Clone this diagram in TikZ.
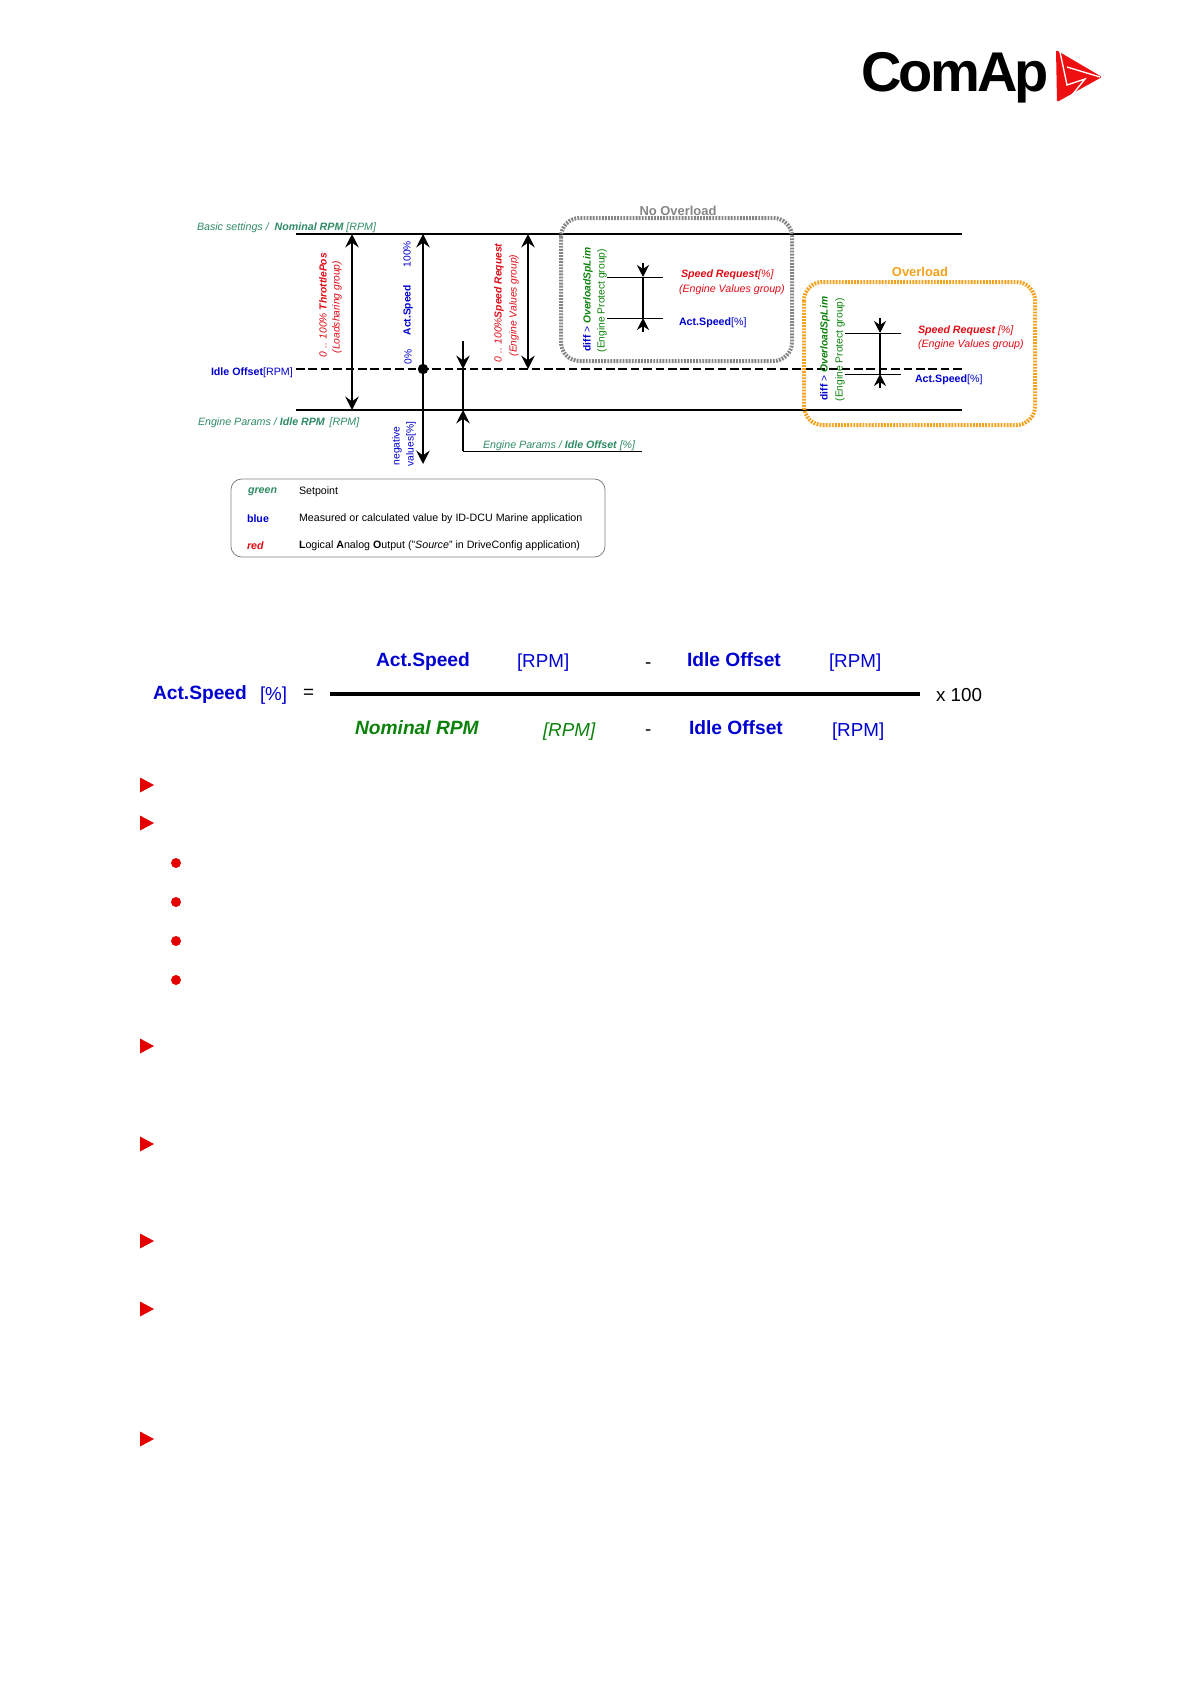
\documentclass[tikz,border=0pt]{standalone}
\usepackage{fontspec}
\setmainfont{Liberation Sans}
\newfontfamily\logofont[LetterSpace=-5]{Liberation Sans}
\usetikzlibrary{arrows.meta}
\definecolor{setgreen}{HTML}{2E8B62}
\definecolor{valblue}{HTML}{0000D0}
\definecolor{valred}{HTML}{E00A14}
\definecolor{pargreen}{HTML}{0A820A}
\definecolor{boxgrey}{HTML}{858585}
\definecolor{boxorange}{HTML}{F2A21E}
\definecolor{legendline}{HTML}{808080}
\definecolor{logored}{HTML}{EE1010}
\tikzset{
  lab/.style={inner sep=0pt,outer sep=0pt,font=\fontsize{8}{9}\selectfont},
  west/.style={lab,anchor=west,yshift=-1pt},
  up/.style={lab,anchor=west,rotate=90,xshift=.5pt,font=\fontsize{7.7}{9}\selectfont},
  heading/.style={lab,anchor=center,font=\fontsize{9.7}{11}\bfseries\selectfont},
  formula/.style={inner sep=0pt,outer sep=0pt,anchor=west,font=\fontsize{14.1}{16}\selectfont},
  formulab/.style={formula,font=\fontsize{14.4}{16}\bfseries\selectfont},
  level/.style={line width=1.3pt,black},
  dashlevel/.style={line width=1.3pt,black,dash pattern=on 6.4pt off 2.9pt},
  big/.style={line width=1.7pt,black,-{Stealth[length=10pt,width=10pt,inset=3.5pt]}},
  bigboth/.style={line width=1.7pt,black,{Stealth[length=10pt,width=10pt,inset=3.5pt]}-{Stealth[length=10pt,width=10pt,inset=3.5pt]}},
  tick/.style={line width=.7pt,black},
  stem/.style={line width=.9pt,black},
  small/.style={line width=1.7pt,black,-{Stealth[length=9pt,width=9pt,inset=3pt]}},
  dotbox/.style={line width=3pt,dash pattern=on 1.4pt off .9pt,rounded corners=14pt},
  bullet/.style={fill=red!90!black,draw=none},
}
\begin{document}
\begin{tikzpicture}[x=0.75pt,y=-0.75pt]
\useasboundingbox (0,0) rectangle (1191,1684);

% logo
\node[inner sep=0pt,anchor=base west,font=\fontsize{42}{44}\bfseries\logofont] (logo) at (861,92) {ComAp};
\fill[logored,rounded corners=1pt] (1056,50) -- (1102,77) -- (1057,102) -- cycle;
\draw[white,line width=1pt] (1060,52) -- (1067,85) -- (1085,79) -- (1068,100);
\draw[white,line width=1pt] (1067,67) -- (1100,77);

% level lines
\coordinate (topL) at (296,234); \coordinate (topR) at (962,234);
\coordinate (midL) at (296,369); \coordinate (midR) at (962,369);
\coordinate (lowL) at (296,410); \coordinate (lowR) at (962,410);
\draw[level] (topL) -- (topR);
\draw[dashlevel] (midL) -- (midR);
\draw[level] (lowL) -- (lowR);

% vertical arrows
\coordinate (a1t) at (352,234); \coordinate (a1b) at (352,410);
\draw[bigboth] (a1b) -- (a1t);
\coordinate (a2t) at (423,234); \coordinate (a2m) at (423,369); \coordinate (a2b) at (423,464);
\draw[big] (a2m) -- (a2t);
\draw[big] (a2m) -- (a2b);
\fill[black] (a2m) circle (5.2);
\coordinate (a3t) at (528,234); \coordinate (a3b) at (528,369);
\draw[bigboth] (a3b) -- (a3t);
\coordinate (i0) at (463,341); \coordinate (i1) at (463,369);
\coordinate (i2) at (463,410); \coordinate (i3) at (463,451); \coordinate (i4) at (642,451);
\draw[big] (i0) -- (i1);
\draw[stem] (i1) -- (i2);
\draw[big] (i3) -- (i2);
\draw[tick] (i3) -- (i4);

% left labels
\node[west,text=setgreen] (tNom) at (197,226) {\itshape Basic settings / \textbf{ Nominal RPM} [RPM]};
\node[west,text=valblue] (tIdle) at (211,371) {\textbf{Idle Offset}[RPM]};
\node[west,text=setgreen] (tIdleRpm) at (198,421) {\itshape Engine Params / \textbf{Idle RPM}\, [RPM]};
\node[west,text=setgreen] (tIdleOff) at (483,444) {\itshape Engine Params / \textbf{Idle Offset} [\%]};

% rotated labels
\node[up,text=valred] (r1) at (323,358) {\itshape 0 .. 100\% \textbf{ThrottlePos}};
\node[up,text=valred] (r2) at (337,354) {\itshape (Loadsharing group)};
\node[up,text=valblue] (r3) at (407,268) {100\%};
\node[up,text=valblue] (r4) at (408,336) {\textbf{Act.Speed}};
\node[up,text=valblue] (r5) at (408,365) {0\%};
\node[up,text=valred] (r6) at (499,363) {\itshape 0 .. 100\%\textbf{Speed Request}};
\node[up,text=valred] (r7) at (514,357) {\itshape (Engine Values group)};
\node[up,text=valblue] (r8) at (397,466) {negative};
\node[up,text=valblue] (r9) at (411,467) {values[\%]};

% no overload box
\draw[dotbox,boxgrey] (561,218) rectangle (792,361);
\node[heading,text=boxgrey] (hNo) at (678,211) {No Overload};
\node[up] (n1) at (588,352) {\textcolor{valblue}{\textbf{diff}} \textcolor{valblue}{>} \textcolor{pargreen}{\textbf{\itshape OverloadSpLim}}};
\node[up,text=pargreen] (n2) at (602,353) {(Engine Protect group)};
\coordinate (n3) at (607,277); \coordinate (n4) at (663,277);
\coordinate (n5) at (607,318); \coordinate (n6) at (663,318);
\draw[tick] (n3) -- (n4);
\draw[tick] (n5) -- (n6);
\coordinate (n7) at (643,263); \coordinate (n8) at (643,277);
\coordinate (n9) at (643,318); \coordinate (n10) at (643,332);
\draw[stem] (n8) -- (n9);
\draw[small] (n7) -- (n8);
\draw[small] (n10) -- (n9);
\node[west,text=valred] (n11) at (681,273) {\itshape\textbf{Speed Request}[\%]};
\node[west,text=valred] (n12) at (679,288) {\itshape (Engine Values group)};
\node[west,text=valblue] (n13) at (679,321) {\textbf{Act.Speed}[\%]};

% overload box
\draw[dotbox,boxorange] (804,282) rectangle (1035,425);
\node[heading,text=boxorange] (hOv) at (920,272) {Overload};
\node[up] (o1) at (825,401) {\textcolor{valblue}{\textbf{diff}} \textcolor{valblue}{>} \textcolor{pargreen}{\textbf{\itshape OverloadSpLim}}};
\node[up,text=pargreen] (o2) at (840,402) {(Engine Protect group)};
\coordinate (o3) at (845,333); \coordinate (o4) at (901,333);
\coordinate (o5) at (845,374); \coordinate (o6) at (901,374);
\draw[tick] (o3) -- (o4);
\draw[tick] (o5) -- (o6);
\coordinate (o7) at (880,318); \coordinate (o8) at (880,333);
\coordinate (o9) at (880,374); \coordinate (o10) at (880,388);
\draw[stem] (o8) -- (o9);
\draw[small] (o7) -- (o8);
\draw[small] (o10) -- (o9);
\node[west,text=valred] (o11) at (918,329) {\itshape\textbf{Speed Request} [\%]};
\node[west,text=valred] (o12) at (918,343) {\itshape (Engine Values group)};
\node[west,text=valblue] (o13) at (915,378) {\textbf{Act.Speed}[\%]};

% legend
\draw[legendline,line width=.6pt,rounded corners=8pt] (231,479) rectangle (605,557);
\node[west,text=setgreen] (l1) at (248,490) {\bfseries\itshape green};
\node[west,text=valblue] (l2) at (247,517) {\bfseries blue};
\node[west,text=valred] (l3) at (247,544) {\bfseries\itshape red};
\node[west] (l4) at (299,490) {Setpoint};
\node[west] (l5) at (299,517) {Measured or calculated value by ID-DCU Marine application};
\node[west] (l6) at (299,544) {\textbf{L}ogical \textbf{A}nalog \textbf{O}utput ("\textit{Source}" in DriveConfig application)};

% formula
\node[formulab,text=valblue] (f1) at (376,662) {Act.Speed};
\node[formula,text=valblue] (f2) at (517,663) {[RPM]};
\node[formula] (f3) at (645,666) {-};
\node[formulab,text=valblue] (f4) at (687,660) {Idle Offset};
\node[formula,text=valblue] (f5) at (829,663) {[RPM]};
\node[formulab,text=valblue] (f6) at (153,695) {Act.Speed};
\node[formula,text=valblue] (f7) at (260,696) {[\%]};
\node[formula] (f8) at (303,694) {=};
\coordinate (barL) at (330,694); \coordinate (barR) at (920,694);
\draw[line width=3pt,black] (barL) -- (barR);
\node[formula] (f9) at (936,695) {x 100};
\node[formulab,text=pargreen,font=\fontsize{14.4}{16}\bfseries\itshape\selectfont] (f10) at (355,728) {Nominal RPM};
\node[formula,text=pargreen] (f11) at (543,732) {\itshape [RPM]};
\node[formula] (f12) at (645,733) {-};
\node[formulab,text=valblue] (f13) at (689,728) {Idle Offset};
\node[formula,text=valblue] (f14) at (832,732) {[RPM]};

% bullets
\foreach \yy in {785,823,1046,1144,1241,1309,1439}
  \fill[bullet] (140,\yy-7.5) -- (154,\yy) -- (140,\yy+7.5) -- cycle;
\foreach \yy in {863,902,941,980}
  \fill[bullet] (176,\yy) circle (5);
\end{tikzpicture}
\end{document}
